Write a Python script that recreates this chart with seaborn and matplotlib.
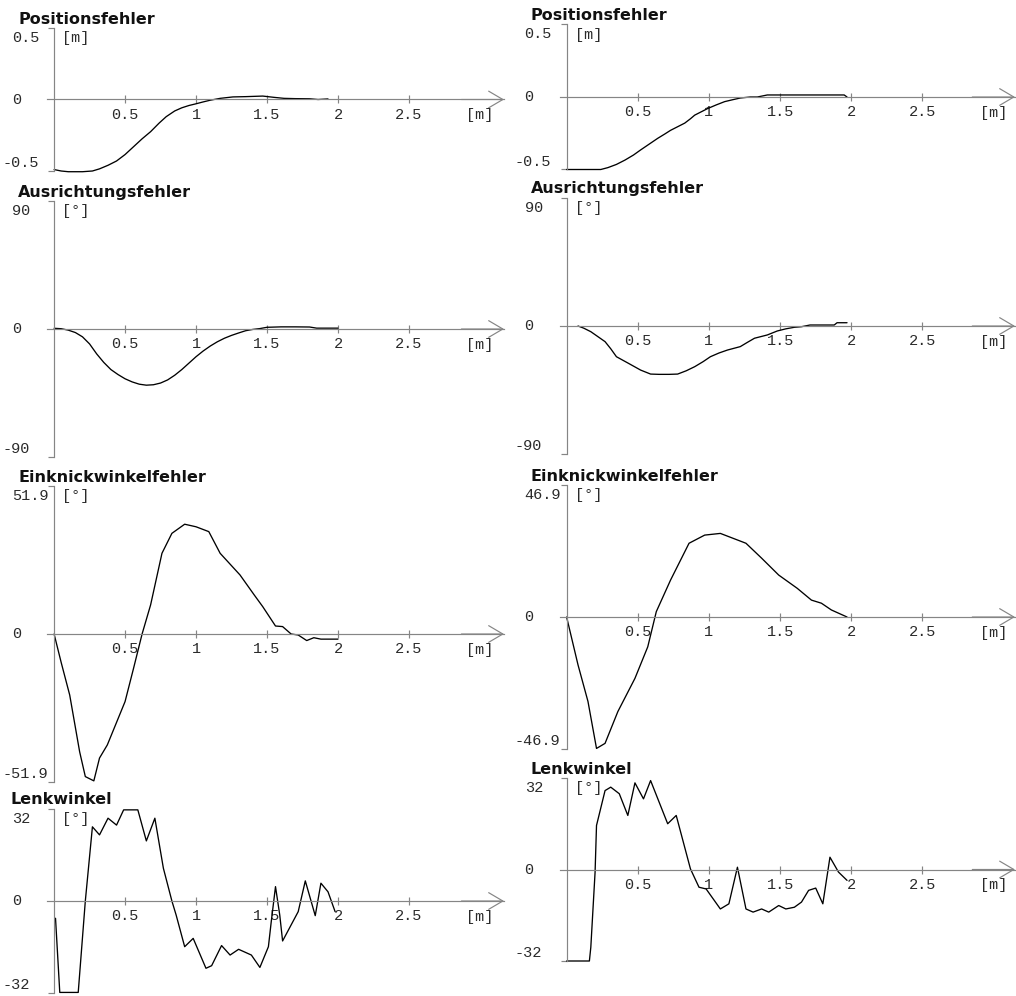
import numpy as np
import matplotlib
matplotlib.use("Agg")
import matplotlib.pyplot as plt
import seaborn as sns

# ---------------------------------------------------------------- data
# distance along the path [m] and the recorded quantity, left / right run
pos_l_x = [0, 0.05, 0.1, 0.2, 0.27, 0.32, 0.38, 0.44, 0.5, 0.56, 0.62, 0.68, 0.74, 0.79,
           0.85, 0.9, 0.95, 1.0, 1.05, 1.1, 1.17, 1.26, 1.35, 1.47, 1.55, 1.62, 1.7, 1.8,
           1.86, 1.93]
pos_l_y = [-0.49, -0.5, -0.505, -0.505, -0.5, -0.485, -0.46, -0.43, -0.385, -0.33, -0.275,
           -0.225, -0.165, -0.12, -0.08, -0.058, -0.042, -0.03, -0.017, -0.005, 0.008,
           0.018, 0.02, 0.024, 0.015, 0.008, 0.006, 0.005, 0.0, 0.004]

pos_r_x = [0, 0.1, 0.24, 0.29, 0.35, 0.41, 0.47, 0.52, 0.58, 0.64, 0.69, 0.73, 0.78, 0.83,
           0.87, 0.9, 0.95, 0.99, 1.05, 1.11, 1.17, 1.22, 1.29, 1.34, 1.41, 1.6, 1.8, 1.95,
           1.97]
pos_r_y = [-0.5, -0.5, -0.5, -0.487, -0.465, -0.435, -0.4, -0.365, -0.325, -0.285, -0.255,
           -0.23, -0.205, -0.18, -0.15, -0.125, -0.1, -0.08, -0.055, -0.032, -0.018, -0.007,
           0.0, 0.0, 0.014, 0.014, 0.014, 0.014, 0.0]

aus_l_x = [0, 0.05, 0.1, 0.15, 0.2, 0.25, 0.3, 0.35, 0.4, 0.45, 0.5, 0.55, 0.6, 0.65, 0.7,
           0.75, 0.8, 0.85, 0.9, 0.95, 1.0, 1.05, 1.1, 1.15, 1.2, 1.25, 1.3, 1.35, 1.4, 1.45,
           1.5, 1.6, 1.7, 1.8, 1.85, 1.9, 2.0]
aus_l_y = [0.5, 0.2, -0.8, -2.5, -5.5, -10.5, -17.5, -23.5, -28.5, -32, -35, -37.2, -38.8,
           -39.5, -39.2, -38, -35.8, -32.5, -28.5, -24, -19.5, -15.5, -12, -9, -6.5, -4.5,
           -2.8, -1.2, -0.3, 0.3, 1.2, 1.5, 1.5, 1.4, 0.6, 0.6, 0.6]

aus_r_x = [0.08, 0.12, 0.17, 0.22, 0.27, 0.31, 0.35, 0.43, 0.52, 0.59, 0.65, 0.72, 0.78,
           0.84, 0.9, 0.96, 1.01, 1.07, 1.13, 1.22, 1.27, 1.32, 1.41, 1.48, 1.54, 1.6, 1.65,
           1.71, 1.88, 1.9, 1.97]
aus_r_y = [0, -1.5, -4, -7.5, -11, -16, -21.6, -26, -31, -33.8, -34, -34, -33.8, -31.5,
           -28.6, -25, -21.6, -19, -16.9, -14.5, -11.5, -8.6, -6.3, -3.5, -2, -0.9, -0.5,
           0.7, 0.7, 2.3, 2.3]

ein_l_x = [0, 0.05, 0.11, 0.18, 0.22, 0.28, 0.32, 0.375, 0.44, 0.5, 0.56, 0.62, 0.68, 0.76,
           0.83, 0.92, 1.0, 1.09, 1.17, 1.24, 1.31, 1.41, 1.47, 1.56, 1.61, 1.67, 1.72, 1.78,
           1.83, 1.88, 2.0]
ein_l_y = [0, -10, -21.4, -41.3, -50, -51.5, -43.5, -38.9, -31, -23.7, -12, 0, 10.2, 28.3,
           35.3, 38.5, 37.6, 35.9, 28.3, 24.5, 20.7, 13.7, 9.6, 2.8, 2.6, 0, -0.35, -2.3,
           -1.3, -1.8, -1.8]

ein_r_x = [0, 0.08, 0.15, 0.21, 0.27, 0.36, 0.48, 0.57, 0.63, 0.73, 0.86, 0.97, 1.08, 1.26,
           1.37, 1.49, 1.62, 1.72, 1.79, 1.86, 1.97]
ein_r_y = [0, -17, -30, -46.7, -44.9, -33.6, -21.8, -10.6, 1.9, 13.1, 26.2, 29.1, 29.7,
           26.2, 20.9, 14.9, 10.2, 6.0, 4.9, 2.5, 0]

lenk_l_x = [0.01, 0.04, 0.17, 0.22, 0.27, 0.32, 0.38, 0.44, 0.49, 0.59, 0.65, 0.71, 0.77,
            0.83, 0.86, 0.92, 0.98, 1.07, 1.11, 1.18, 1.24, 1.30, 1.39, 1.45, 1.51, 1.53,
            1.56, 1.59, 1.61, 1.72, 1.77, 1.84, 1.88, 1.93, 1.98]
lenk_l_y = [-6, -31.8, -31.8, 0, 25.8, 23, 28.8, 26.4, 31.7, 31.7, 20.9, 28.8, 11.4, 0,
            -4.9, -15.9, -13, -23.4, -22.5, -15.5, -18.8, -16.8, -18.8, -23.1, -15.9, -7.2,
            5.0, -4.9, -13.9, -3.7, 7.0, -5.1, 6.2, 3.2, -3.7]

lenk_r_x = [0, 0.16, 0.17, 0.20, 0.21, 0.27, 0.31, 0.37, 0.43, 0.48, 0.54, 0.59, 0.71, 0.77,
            0.87, 0.93, 0.98, 1.08, 1.14, 1.20, 1.26, 1.31, 1.37, 1.42, 1.49, 1.54, 1.60,
            1.65, 1.70, 1.75, 1.80, 1.85, 1.91, 1.97]
lenk_r_y = [-32, -32, -27.2, -0.9, 15.4, 27.6, 28.8, 26.5, 18.9, 30.3, 24.7, 31.1, 16, 18.9,
            0.2, -6.2, -6.8, -13.8, -12, 0.8, -13.8, -14.9, -13.8, -14.9, -12.6, -13.8,
            -13.2, -11.4, -7.3, -6.5, -12, 4.3, -0.9, -3.8]

titles = ["Positionsfehler", "Ausrichtungsfehler", "Einknickwinkelfehler", "Lenkwinkel"]
y_units = ["[m]", "[°]", "[°]", "[°]"]
y_limits_left = [0.5, 90, 51.9, 32]
y_limits_right = [0.5, 90, 46.9, 32]
y_labels_left = [("0.5", "-0.5"), ("90", "-90"), ("51.9", "-51.9"), ("32", "-32")]
y_labels_right = [("0.5", "-0.5"), ("90", "-90"), ("46.9", "-46.9"), ("32", "-32")]
x_ticks = [0.5, 1, 1.5, 2, 2.5]
x_tick_labels = ["0.5", "1", "1.5", "2", "2.5"]
x_unit = "[m]"

series_left = [(pos_l_x, pos_l_y), (aus_l_x, aus_l_y), (ein_l_x, ein_l_y), (lenk_l_x, lenk_l_y)]
series_right = [(pos_r_x, pos_r_y), (aus_r_x, aus_r_y), (ein_r_x, ein_r_y), (lenk_r_x, lenk_r_y)]

# ---------------------------------------------------------------- style
sns.set_theme(style="white")
plt.rcParams["font.family"] = ["DejaVu Sans"]

W, H = 1016, 996
fig = plt.figure(figsize=(W / 100, H / 100), dpi=100, facecolor="white")

AXIS_GREY = "#858585"
MONO = "Liberation Mono"
TEXT_GREY = "#2a2a2a"
MONO_SIZE = 11

# panel frames in pixels: (left, right, top, bottom)
X_MIN = -0.05
frames_left = [(47, 504, 28, 171), (47, 504, 201, 457), (47, 504, 486, 782), (47, 504, 809, 993)]
frames_right = [(559.5, 1015, 24.5, 169.5), (559.5, 1015, 198, 454), (559.5, 1015, 485, 749),
                (559.5, 1015, 778, 961)]
title_shift_left = [-29, -29, -29, -37]
title_shift_right = [-29, -29, -29, -29]


def mono_note(ax, text, xy, offset, ha="left"):
    ax.annotate(text, xy=xy, xytext=offset, textcoords="offset pixels", ha=ha, va="center",
                family=MONO, fontsize=MONO_SIZE, color=TEXT_GREY, annotation_clip=False)


def draw_panel(frame, xmax, series, ymax, title, unit, labels, title_shift):
    l, r, t, b = frame
    ax = fig.add_axes([l / W, 1 - b / H, (r - l) / W, (b - t) / H])
    ax.set_facecolor("none")
    x, y = series
    sns.lineplot(x=x, y=y, ax=ax, color="black", linewidth=0.95, sort=False,
                 estimator=None)
    for ln in ax.lines:
        ln.set_clip_on(False)
    ax.set_xlim(X_MIN, xmax)
    ax.set_ylim(-ymax, ymax)
    ax.set_xlabel("")
    ax.set_ylabel("")

    for s in ("top", "right"):
        ax.spines[s].set_visible(False)
    for s in ("left", "bottom"):
        ax.spines[s].set_color(AXIS_GREY)
        ax.spines[s].set_linewidth(0.85)
    ax.spines["left"].set_position(("data", 0))
    ax.spines["bottom"].set_position(("data", 0))

    ax.set_xticks(x_ticks)
    ax.set_xticklabels(x_tick_labels, family=MONO, fontsize=MONO_SIZE, color=TEXT_GREY)
    ax.tick_params(axis="x", direction="inout", length=6, width=0.85, color=AXIS_GREY,
                   pad=3, bottom=True)
    ax.set_yticks([-ymax, ymax])
    ax.set_yticklabels([])
    ax.tick_params(axis="y", direction="out", length=4, width=0.85, color=AXIS_GREY,
                   left=True)

    # arrow head at the end of the distance axis
    ax.annotate("", xy=(xmax, 0), xytext=(xmax - 0.3, 0), annotation_clip=False,
                arrowprops=dict(arrowstyle="->,head_length=0.85,head_width=0.5",
                                color=AXIS_GREY, lw=0.85, shrinkA=0, shrinkB=0))
    mono_note(ax, x_unit, (3.0, 0), (0, -15.5), ha="center")
    # unit of the value axis
    mono_note(ax, unit, (0, ymax), (8, -10))
    # value labels at top, zero and bottom
    top_lab, bot_lab = labels
    mono_note(ax, top_lab, (0, ymax), (-42, -10))
    mono_note(ax, "0", (0, 0), (-42, 0))
    mono_note(ax, bot_lab, (0, -ymax), (-52, 8))
    # panel title
    ax.annotate(title, xy=(0, 1), xycoords="axes fraction", xytext=(title_shift, 4.5),
                textcoords="offset pixels", ha="left", va="baseline", fontsize=11.5,
                fontweight="bold", color="#111111", annotation_clip=False)
    return ax


for i in range(4):
    draw_panel(frames_left[i], 3.17, series_left[i], y_limits_left[i], titles[i],
               y_units[i], y_labels_left[i], title_shift_left[i])
    draw_panel(frames_right[i], 3.15, series_right[i], y_limits_right[i], titles[i],
               y_units[i], y_labels_right[i], title_shift_right[i])

fig.savefig("out.png", dpi=100, facecolor="white")
